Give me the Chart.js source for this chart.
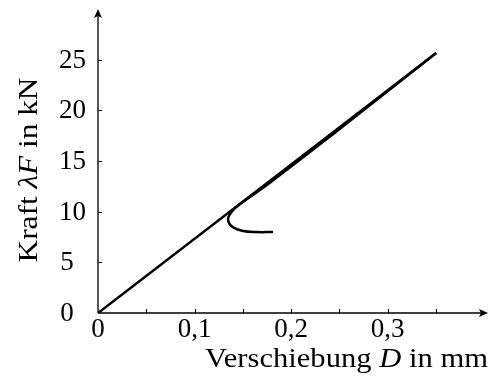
<!DOCTYPE html>
<html lang="de">
<head>
  <meta charset="UTF-8">
  <title>Kraft-Verschiebung</title>
  <script src="https://cdn.jsdelivr.net/npm/chart.js"></script>
  <style>
    body { margin: 0; background: #fff; }
    #box { width: 494px; height: 376px; }
  </style>
</head>
<body>
  <div id="box"><canvas id="chart"></canvas></div>

  <script>
    // Belastung: gerade bis zum Maximum
    const loadD = [0, 0.3503];
    const loadF = [0, 25.66];
    // Rueckweg mit Schlaufe am Ende
    const backD = [0.3503, 0.2990, 0.2477, 0.1777, 0.1472, 0.1409, 0.1368, 0.1347, 0.1363, 0.1409, 0.1503, 0.1637, 0.1813];
    const backF = [25.66, 21.81, 17.96, 12.83, 10.76, 10.26, 9.77, 9.28, 8.78, 8.39, 8.09, 7.99, 7.99];

    const xTicks = [0.05, 0.1, 0.15, 0.2, 0.25, 0.3, 0.35];
    const xLabelVals = [0, 0.1, 0.2, 0.3];
    const xLabels = ['0', '0,1', '0,2', '0,3'];
    const yTicks = [5, 10, 15, 20, 25];
    const yLabelVals = [0, 5, 10, 15, 20, 25];
    const yLabels = ['0', '5', '10', '15', '20', '25'];

    const pts = (xs, ys) => xs.map((x, i) => ({ x: x, y: ys[i] }));
    const FONT = '"Liberation Serif", serif';

    // Achsen mit Pfeilen, Ticks und Beschriftung selbst zeichnen
    const axesPlugin = {
      id: 'axes',
      afterDraw(chart) {
        const c = chart.ctx;
        const xs = chart.scales.x, ys = chart.scales.y;
        const x0 = xs.getPixelForValue(0), y0 = ys.getPixelForValue(0);
        const xEnd = chart.chartArea.right, yEnd = chart.chartArea.top;
        c.save();
        c.strokeStyle = '#000';
        c.fillStyle = '#000';
        c.lineWidth = 1.3;
        c.beginPath();
        c.moveTo(x0, y0); c.lineTo(xEnd - 6, y0);
        c.moveTo(x0, y0); c.lineTo(x0, yEnd + 6);
        c.stroke();
        // Pfeilspitzen
        c.beginPath();
        c.moveTo(xEnd, y0); c.lineTo(xEnd - 9, y0 - 4); c.lineTo(xEnd - 7, y0); c.lineTo(xEnd - 9, y0 + 4);
        c.closePath(); c.fill();
        c.beginPath();
        c.moveTo(x0, yEnd); c.lineTo(x0 - 4, yEnd + 9); c.lineTo(x0, yEnd + 7); c.lineTo(x0 + 4, yEnd + 9);
        c.closePath(); c.fill();

        c.lineWidth = 1;
        c.beginPath();
        xTicks.forEach(v => {
          const px = Math.round(xs.getPixelForValue(v)) + 0.5;
          c.moveTo(px, y0); c.lineTo(px, y0 - 4);
        });
        yTicks.forEach(v => {
          const py = Math.round(ys.getPixelForValue(v)) + 0.5;
          c.moveTo(x0, py); c.lineTo(x0 + 4, py);
        });
        c.stroke();

        c.font = '27px ' + FONT;
        c.textAlign = 'center';
        c.textBaseline = 'alphabetic';
        xLabelVals.forEach((v, i) => {
          c.fillText(xLabels[i], xs.getPixelForValue(v), 337);
        });
        c.textBaseline = 'middle';
        yLabelVals.forEach((v, i) => {
          const py = ys.getPixelForValue(v);
          if (yLabels[i].length > 1) {
            c.textAlign = 'right';
            c.fillText(yLabels[i], 86, py + 1);
          } else {
            c.textAlign = 'center';
            c.fillText(yLabels[i], 67, py + 1);
          }
        });

        // Achsentitel aus Teilen (kursiv fuer Formelzeichen)
        const fontOf = p => (p[1] ? 'italic ' : '') + '28px ' + FONT;
        const width = parts => parts.reduce((s, p) => {
          c.font = fontOf(p);
          return s + c.measureText(p[0]).width;
        }, 0);
        // Titel auf Zielbreite strecken (Serifenschrift im Original ist breiter)
        const drawTitle = (parts, target) => {
          const w = width(parts);
          c.save();
          c.scale(target / w, 1);
          let x = -w / 2;
          parts.forEach(p => {
            c.font = fontOf(p);
            c.fillText(p[0], x, 0);
            x += c.measureText(p[0]).width;
          });
          c.restore();
        };

        c.textAlign = 'left';
        c.textBaseline = 'alphabetic';
        c.save();
        c.translate(488 - 283 / 2, 367);
        drawTitle([['Verschiebung ', false], ['D', true], [' in mm', false]], 283);
        c.restore();

        c.save();
        c.translate(37, 170);
        c.rotate(-Math.PI / 2);
        drawTitle([['Kraft ', false], ['λF', true], [' in kN', false]], 185);
        c.restore();
        c.restore();
      }
    };

    new Chart(document.getElementById('chart'), {
      type: 'scatter',
      data: {
        datasets: [
          {
            data: pts(loadD, loadF),
            showLine: true,
            borderColor: '#000',
            borderWidth: 2.5,
            pointRadius: 0,
            tension: 0
          },
          {
            data: pts(backD, backF),
            showLine: true,
            borderColor: '#000',
            borderWidth: 2.5,
            pointRadius: 0,
            tension: 0.4
          }
        ]
      },
      options: {
        animation: false,
        responsive: true,
        maintainAspectRatio: false,
        layout: { padding: { left: 98, right: 6, top: 9, bottom: 63 } },
        plugins: { legend: { display: false }, tooltip: { enabled: false } },
        scales: {
          x: { type: 'linear', min: 0, max: 0.404, display: false },
          y: { type: 'linear', min: 0, max: 30, display: false }
        }
      },
      plugins: [axesPlugin]
    });
  </script>
</body>
</html>
